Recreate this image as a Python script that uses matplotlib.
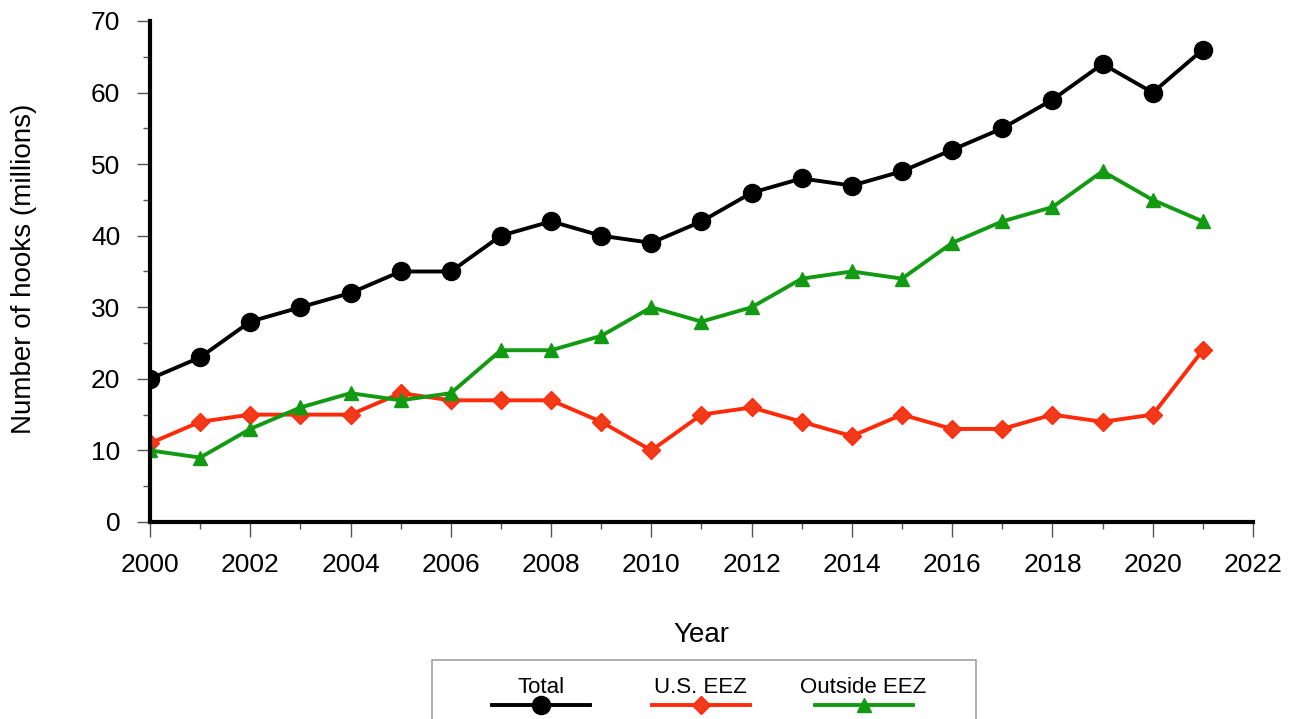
import numpy as np
import matplotlib.pyplot as plt
from matplotlib.offsetbox import VPacker
from matplotlib.ticker import MultipleLocator

plt.rcParams['font.family'] = ['Liberation Sans', 'DejaVu Sans']

years = list(range(2000, 2022))
total = [20, 23, 28, 30, 32, 35, 35, 40, 42, 40, 39, 42, 46, 48, 47, 49, 52, 55, 59, 64, 60, 66]
us_eez = [11, 14, 15, 15, 15, 18, 17, 17, 17, 14, 10, 15, 16, 14, 12, 15, 13, 13, 15, 14, 15, 24]
outside_eez = [10, 9, 13, 16, 18, 17, 18, 24, 24, 26, 30, 28, 30, 34, 35, 34, 39, 42, 44, 49, 45, 42]

fig = plt.figure(figsize=(12.92, 7.19), dpi=100)
ax = fig.add_axes([0.1161, 0.274, 0.8537, 0.6968])

ax.plot(years, total, color='black', lw=2.8, marker='o', ms=13, label='Total', zorder=3)
ax.plot(years, us_eez, color='#ff2a0a', lw=2.8, marker='D', ms=9, mfc='#f03a1a', mec='#ff2a0a',
        label='U.S. EEZ', zorder=2)
ax.plot(years, outside_eez, color='#139a13', lw=2.8, marker='^', ms=10, label='Outside EEZ', zorder=2)

ax.set_xlim(2000, 2022)
ax.set_ylim(0, 70)
ax.xaxis.set_major_locator(MultipleLocator(2))
ax.xaxis.set_minor_locator(MultipleLocator(1))
ax.yaxis.set_major_locator(MultipleLocator(10))
ax.yaxis.set_minor_locator(MultipleLocator(5))

for s in ['top', 'right']:
    ax.spines[s].set_visible(False)
for s in ['left', 'bottom']:
    ax.spines[s].set_linewidth(3)
ax.tick_params(which='both', direction='out', width=1, color='#555555', labelsize=19)
ax.tick_params(axis='y', which='major', length=9.5, pad=12)
ax.tick_params(axis='y', which='minor', length=5)
ax.tick_params(axis='x', which='major', length=11, pad=11)
ax.tick_params(axis='x', which='minor', length=5)

ax.set_xlabel('Year', fontsize=20)
ax.set_ylabel('Number of hooks (millions)', fontsize=20)
ax.xaxis.set_label_coords(0.4995, -0.1996)
ax.yaxis.set_label_coords(-0.1024, 0.506)

leg = fig.legend(loc='upper left', bbox_to_anchor=(432 / 1292, 1 - 660 / 719), ncol=3, fontsize=16,
                 frameon=True, fancybox=False, edgecolor='#888888', handlelength=4.4,
                 columnspacing=0.27, borderpad=0.75, borderaxespad=0)
leg.get_frame().set_linewidth(1.2)

# put each label above its line sample, columns sized like the original key
col_widths = [185, 122, 192]
for col, w in zip(leg._legend_handle_box.get_children(), col_widths):
    items = col.get_children()
    for i, item in enumerate(items):
        h, t = item.get_children()
        items[i] = VPacker(pad=0, sep=0, width=w, children=[t, h], align='center')

fig.savefig('out.png', dpi=100)
